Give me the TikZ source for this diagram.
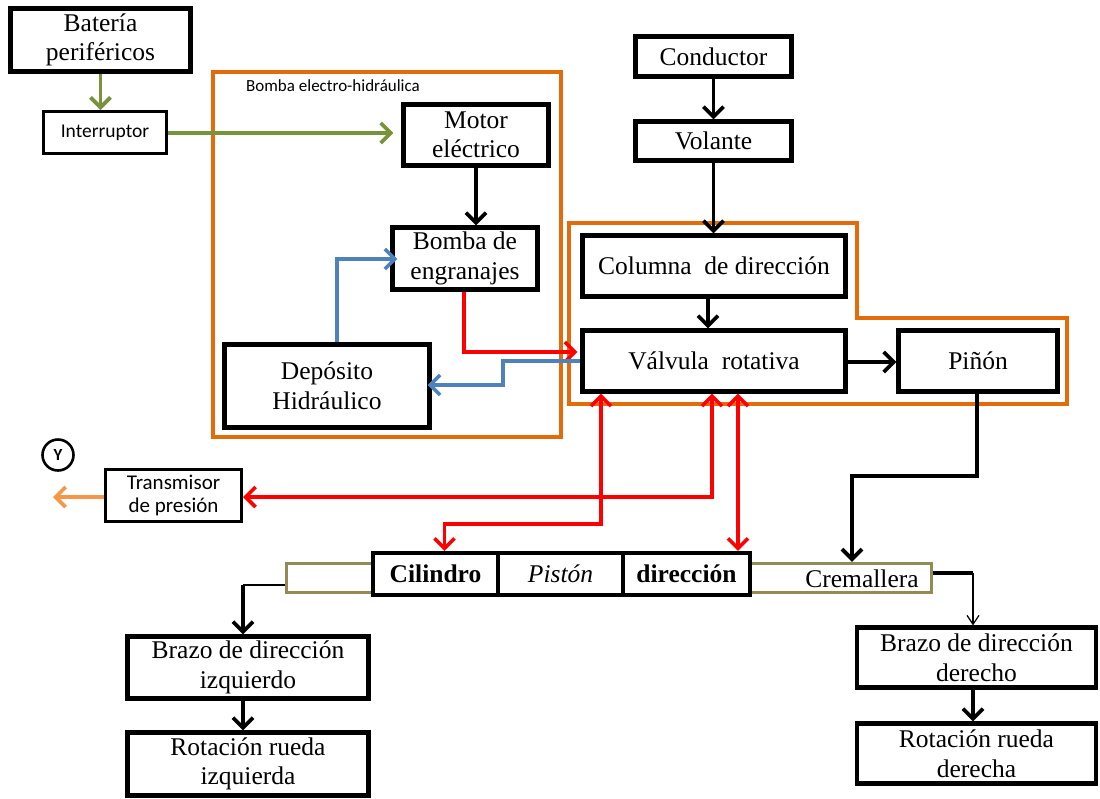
\documentclass[tikz,border=0pt]{standalone}
\usepackage{fontspec}
\setmainfont{Liberation Serif}
\newfontfamily\calibrif{Carlito}
\usetikzlibrary{arrows.meta}

\definecolor{groupor}{HTML}{E36C0A}
\definecolor{elecgreen}{HTML}{77933C}
\definecolor{oilblue}{HTML}{4F81BD}
\definecolor{presred}{HTML}{FF0000}
\definecolor{signalor}{HTML}{F79646}
\definecolor{rackolive}{HTML}{948A54}

\newcommand\boxtext{\fontsize{25.5}{29.5}\selectfont}
\newcommand\smalltext{\calibrif\fontsize{19.5}{23}\selectfont}
\newcommand\transtext{\calibrif\fontsize{21}{23.5}\selectfont}
\newcommand\grouptext{\calibrif\fontsize{17}{20}\selectfont}

\tikzset{
  chev/.tip={Straight Barb[length=10pt,width=20pt]},
  thinchev/.tip={Straight Barb[length=9pt,width=12pt]},
  box/.style={draw=black, line width=4.2pt, align=center, inner sep=0pt, font=\boxtext},
  sbox/.style={draw=black, line width=3pt, align=center, inner sep=0pt, font=\smalltext},
  group/.style={draw=groupor, line width=3.6pt},
  mecharr/.style={draw=black, line width=3.8pt, -chev},
  elecarr/.style={draw=elecgreen, line width=3.8pt, -chev},
  oilarr/.style={draw=oilblue, line width=3.6pt, -chev},
  presarr/.style={draw=presred, line width=3.6pt, -chev},
  presboth/.style={draw=presred, line width=3.6pt, chev-chev},
}

\begin{document}
\begin{tikzpicture}[x=1pt,y=-1pt]
\useasboundingbox (0,0) rectangle (1100,798);

% group outlines
\draw[group] (213,72) rectangle (561,437);
\draw[group] (569,223) -- (857,223) -- (857,318) -- (1067,318) -- (1067,404) -- (569,404) -- cycle;
\node[font=\grouptext, anchor=west, inner sep=0pt] (grplbl) at (246,86) {Bomba electro-hidráulica};

% electrical side
\node[box, minimum width=180pt, minimum height=63pt] (bat) at (100.5,40) {Batería\\periféricos};
\node[sbox, minimum width=123pt, minimum height=42pt] (intr) at (105,132.5) {Interruptor};

% electro-hydraulic pump
\node[box, minimum width=145pt, minimum height=61pt] (motor) at (476,135) {Motor\\eléctrico};
\node[box, minimum width=145pt, minimum height=62pt] (bomba) at (465,258.5) {Bomba de\\engranajes};
\node[box, minimum width=205pt, minimum height=83pt] (dep) at (327,386) {Depósito\\Hidráulico};

% steering input
\node[box, minimum width=156pt, minimum height=40pt] (cond) at (713.5,56.5) {Conductor};
\node[box, minimum width=156pt, minimum height=39pt] (vol) at (713.5,141) {Volante};
\node[box, minimum width=263pt, minimum height=61pt] (col) at (714,266) {Columna\ \ de dirección};
\node[box, minimum width=263pt, minimum height=61pt] (valv) at (714,361) {Válvula\ \ rotativa};
\node[box, minimum width=159pt, minimum height=61pt] (pinon) at (978,361) {Piñón};

% pressure transmitter
\node[draw=black, line width=2.6pt, circle, minimum size=31pt, inner sep=0pt,
      font=\calibrif\bfseries\fontsize{17}{19}\selectfont] (yc) at (58,455) {Y};
\node[sbox, minimum width=136pt, minimum height=52pt, font=\transtext] (trans) at (173.5,495.5) {Transmisor\\de presión};

% rack and cylinder
\node[draw=rackolive, line width=3.4pt, minimum width=645pt, minimum height=29pt, inner sep=0pt] (crem) at (609,578) {};
\node[font=\boxtext, inner sep=0pt] (cremtxt) at (862,579) {Cremallera};
\node[box, fill=white, minimum width=125pt, minimum height=42pt, font=\boxtext\bfseries] (cil) at (435.5,574) {Cilindro};
\node[box, fill=white, minimum width=125pt, minimum height=42pt, font=\boxtext\itshape] (pis) at (560.5,574) {Pistón};
\node[box, fill=white, minimum width=127pt, minimum height=42pt, font=\boxtext\bfseries] (dirc) at (686.5,574) {dirección};

% wheels
\node[box, minimum width=241pt, minimum height=62pt] (brazoI) at (248,667.5) {Brazo de dirección\\izquierdo};
\node[box, minimum width=241pt, minimum height=63pt] (rotI) at (248,764) {Rotación rueda\\izquierda};
\node[box, minimum width=239pt, minimum height=60pt] (brazoD) at (976.5,657.5) {Brazo de dirección\\derecho};
\node[box, minimum width=239pt, minimum height=60pt] (rotD) at (976.5,753.5) {Rotación rueda\\derecha};

% routing points
\coordinate (b1) at (503,385);
\coordinate (cv) at (708,313);
\coordinate (r1) at (601,524);
\coordinate (r2) at (712,497);
\coordinate (r3) at (738,470);
\coordinate (p1) at (852,476);
\coordinate (l1) at (243,585);
\coordinate (rr) at (973,573);

% electrical supply
\draw[elecarr] (bat.south) -- (bat.south |- intr.north);
\draw[elecarr, shorten >=8pt] (intr.east |- 0,133) -- (motor.west |- 0,133);

% pump circuit
\draw[mecharr] (motor.south -| 476,0) -- (bomba.north -| 476,0);
\draw[oilarr, shorten >=-7pt] ([xshift=10pt]dep.north) |- (bomba.west |- 0,259);
\draw[presarr, shorten >=3pt] (bomba.south -| 464,0) |- (valv.west |- 0,352);
\draw[oilarr, shorten >=-4pt] (valv.west) -- (valv.west -| b1) -- (b1) -- (b1 -| dep.east);

% steering chain
\draw[mecharr] (cond.south) -- (vol.north);
\draw[mecharr] (vol.south) -- (vol.south |- col.north);
\draw[mecharr] (col.south -| cv) -- (valv.north -| cv);
\draw[mecharr] (valv.east |- 0,362) -- (pinon.west |- 0,362);
\draw[mecharr] (pinon.south -| 977,0) |- (p1) -- (p1 |- crem.north);

% pressure lines
\draw[presboth] (valv.south -| r1) -- (r1) -| ([xshift=9pt]cil.north);
\draw[presboth] (valv.south -| r2) -- (r2) -- (r2 -| trans.east);
\draw[presboth] (valv.south -| r3) -- (dirc.north -| r3);
\draw[draw=signalor, line width=3.6pt, -chev] (trans.west |- 0,497) -- (53,497);

% rack to steering arms
\draw[black, line width=1.2pt] (crem.west |- l1) -- (l1);
\draw[mecharr] (l1) -- (l1 |- brazoI.north);
\draw[mecharr] (brazoI.south -| l1) -- (rotI.north -| l1);
\draw[black, line width=3.6pt] (crem.east |- rr) -- (rr);
\draw[black, line width=1.2pt, -thinchev] (rr) -- (rr |- brazoD.north);
\draw[mecharr] (brazoD.south -| rr) -- (rotD.north -| rr);
\end{tikzpicture}
\end{document}
